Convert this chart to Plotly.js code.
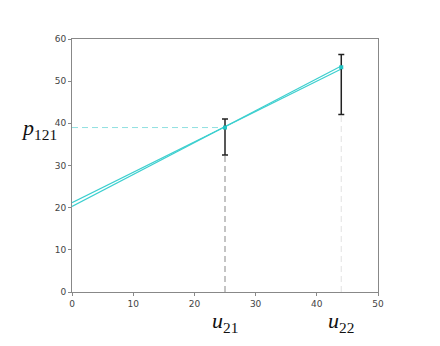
<!DOCTYPE html>
<html><head><meta charset="utf-8">
<script src="https://cdn.plot.ly/plotly-3.0.1.min.js"></script>
<style>body{margin:0;padding:0;background:#fff}</style>
</head><body>
<div id="chart" style="width:440px;height:346px"></div>
<script>
// Data
const lineAx = [0, 44];
const lineAy = [21.2, 52.9];
const lineBx = [0, 44];
const lineBy = [20.3, 53.6];
const pointX = [25, 44];
const pointY = [39, 53.3];
const errPlus = [2.0, 3.0];
const errMinus = [6.5, 11.2];
const hGuideX = [0, 25];
const hGuideY = [39, 39];
const vGuide1X = [25, 25];
const vGuide1Y = [0, 32.5];
const vGuide2X = [44, 44];
const vGuide2Y = [0, 42.1];
const xTicks = [0, 10, 20, 30, 40, 50];
const yTicks = [0, 10, 20, 30, 40, 50, 60];
const xLabels = ['<i>u</i><sub>21</sub>', '<i>u</i><sub>22</sub>'];
const yLabel = '<i>p</i><sub>121</sub>';

const traces = [
  {x: hGuideX, y: hGuideY, mode: 'lines', line: {color: '#8fe0e0', width: 1, dash: '6px,4px'}, hoverinfo: 'skip'},
  {x: vGuide1X, y: vGuide1Y, mode: 'lines', line: {color: '#c4c4c4', width: 2, dash: '6px,4px'}, hoverinfo: 'skip'},
  {x: vGuide2X, y: vGuide2Y, mode: 'lines', line: {color: '#e6e6e6', width: 1.2, dash: '6px,4px'}, hoverinfo: 'skip'},
  {x: lineAx, y: lineAy, mode: 'lines', line: {color: '#3ccfcf', width: 1.2}},
  {x: lineBx, y: lineBy, mode: 'lines', line: {color: '#3ccfcf', width: 1.2}},
  {x: pointX, y: pointY, mode: 'markers', marker: {color: '#22c4c4', size: 4, symbol: 'square'},
   error_y: {type: 'data', symmetric: false, array: errPlus, arrayminus: errMinus, color: '#222', thickness: 1.5, width: 3}}
];

const layout = {
  width: 440, height: 346,
  margin: {l: 72, r: 62, t: 39, b: 54},
  showlegend: false,
  paper_bgcolor: '#fff', plot_bgcolor: '#fff',
  font: {family: 'DejaVu Sans', size: 9, color: '#444'},
  xaxis: {range: [0, 50], tickvals: xTicks, ticktext: xTicks.map(String), showgrid: false, zeroline: false,
    showline: true, linecolor: '#888', linewidth: 1, mirror: true, ticks: 'outside', ticklen: 3, tickcolor: '#888',
    tickfont: {family: 'DejaVu Sans', size: 9, color: '#444'}},
  yaxis: {range: [0, 60], tickvals: yTicks, ticktext: yTicks.map(String), showgrid: false, zeroline: false,
    showline: true, linecolor: '#888', linewidth: 1, mirror: true, ticks: 'outside', ticklen: 3, tickcolor: '#888',
    tickfont: {family: 'DejaVu Sans', size: 9, color: '#444'}},
  annotations: [
    {x: 25, y: 0, xref: 'x', yref: 'paper', yshift: -30, text: xLabels[0], showarrow: false,
     font: {family: 'Liberation Serif', size: 22, color: '#111'}, xanchor: 'center', yanchor: 'middle'},
    {x: 44, y: 0, xref: 'x', yref: 'paper', yshift: -30, text: xLabels[1], showarrow: false,
     font: {family: 'Liberation Serif', size: 22, color: '#111'}, xanchor: 'center', yanchor: 'middle'},
    {x: 0, y: 39, xref: 'paper', yref: 'y', xshift: -33, yshift: -1, text: yLabel, showarrow: false,
     font: {family: 'Liberation Serif', size: 22, color: '#111'}, xanchor: 'center', yanchor: 'middle'}
  ]
};
Plotly.newPlot('chart', traces, layout, {displayModeBar: false, staticPlot: true});
</script>
</body></html>
